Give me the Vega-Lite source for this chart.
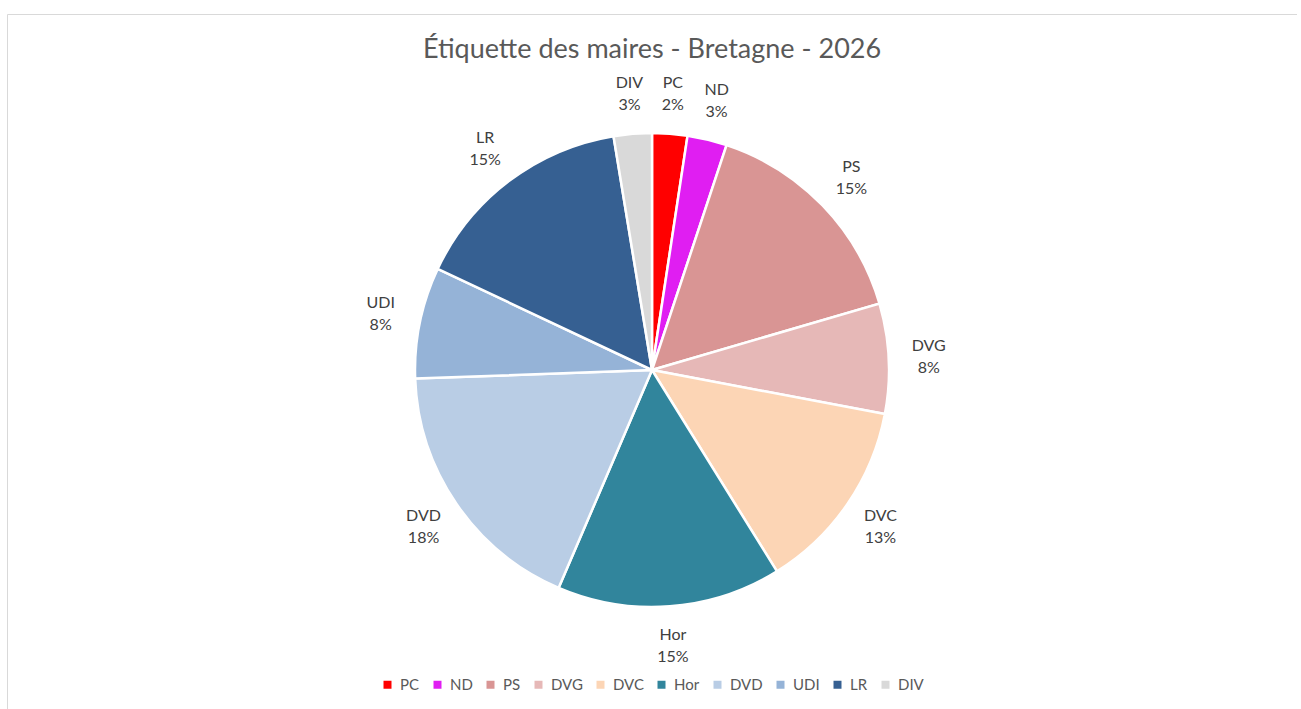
{
  "$schema": "https://vega.github.io/schema/vega-lite/v6.json",
  "width": 1290,
  "height": 712,
  "autosize": {"type": "none"},
  "padding": {"left": 7, "top": 14, "right": 0, "bottom": 0},
  "background": "white",
  "view": {"stroke": "#d9d9d9", "strokeWidth": 1},
  "config": {
    "view": {"stroke": "#d9d9d9", "strokeWidth": 1},
    "font": "Lato"
  },
  "title": {
    "text": "Étiquette des maires - Bretagne - 2026",
    "fontSize": 27,
    "fontWeight": "normal",
    "color": "#595959",
    "font": "Lato",
    "anchor": "middle",
    "offset": -50
  },
  "data": {
    "values": [
      {"parti": "PC", "valeur": 2.4, "ordre": 1, "label": "PC\n2%"},
      {"parti": "ND", "valeur": 2.7, "ordre": 2, "label": "ND\n3%"},
      {"parti": "PS", "valeur": 15.4, "ordre": 3, "label": "PS\n15%"},
      {"parti": "DVG", "valeur": 7.5, "ordre": 4, "label": "DVG\n8%"},
      {"parti": "DVC", "valeur": 13.2, "ordre": 5, "label": "DVC\n13%"},
      {"parti": "Hor", "valeur": 15.3, "ordre": 6, "label": "Hor\n15%"},
      {"parti": "DVD", "valeur": 18.0, "ordre": 7, "label": "DVD\n18%"},
      {"parti": "UDI", "valeur": 7.6, "ordre": 8, "label": "UDI\n8%"},
      {"parti": "LR", "valeur": 15.4, "ordre": 9, "label": "LR\n15%"},
      {"parti": "DIV", "valeur": 2.6, "ordre": 10, "label": "DIV\n3%"}
    ]
  },
  "encoding": {
    "theta": {"field": "valeur", "type": "quantitative", "stack": true},
    "order": {"field": "ordre", "type": "quantitative"}
  },
  "layer": [
    {
      "mark": {"type": "arc", "outerRadius": 237, "stroke": "white", "strokeWidth": 2.5},
      "encoding": {
        "color": {
          "field": "parti",
          "type": "nominal",
          "scale": {
            "domain": ["PC", "ND", "PS", "DVG", "DVC", "Hor", "DVD", "UDI", "LR", "DIV"],
            "range": ["#FF0000", "#E01EF2", "#D99594", "#E6B8B7", "#FCD5B5", "#31859C", "#B9CDE5", "#95B3D7", "#366092", "#D9D9D9"]
          },
          "legend": {
            "title": null,
            "orient": "none",
            "direction": "horizontal",
            "legendX": 373,
            "legendY": 663,
            "symbolType": "square",
            "symbolSize": 64,
            "symbolStrokeWidth": 0,
            "labelFontSize": 15,
            "labelColor": "#595959",
            "labelFont": "Lato",
            "columnPadding": 10,
            "labelOffset": 5
          }
        }
      }
    },
    {
      "mark": {"type": "text", "radius": 277, "fontSize": 16, "color": "#404040", "lineBreak": "\n", "lineHeight": 22, "baseline": "middle", "align": "center", "dy": -11},
      "encoding": {
        "text": {"field": "label", "type": "nominal"}
      }
    }
  ]
}
